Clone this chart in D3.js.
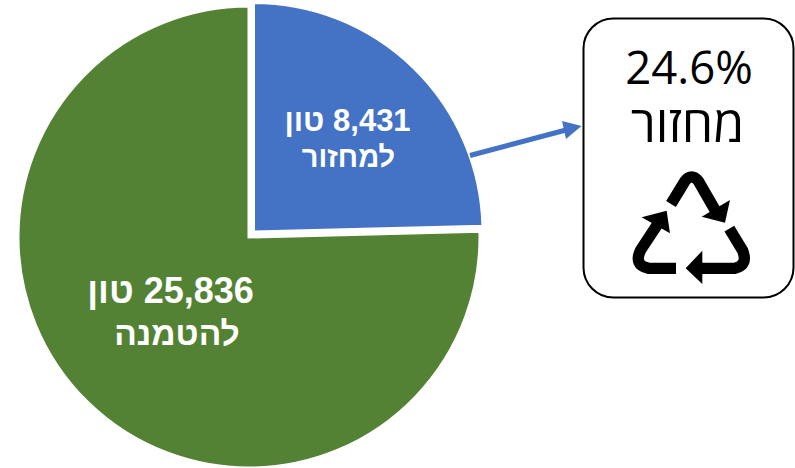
<!DOCTYPE html>
<html><head><meta charset="utf-8">
<script src="https://cdn.jsdelivr.net/npm/d3@7"></script>
<style>html,body{margin:0;background:#fff;overflow:hidden}svg{display:block}</style></head>
<body><svg id="c" width="795" height="468"></svg>
<script>
const values = [8431, 25836];
const lineOne = ["8,431 טון", "25,836 טון"];
const lineTwo = ["למחזור", "להטמנה"];
const colors = ["#4472c4", "#548235"];
const share = "24.6%";
const shareLabel = "מחזור";

const svg = d3.select("#c");
const slices = d3.pie().sort(null)(values);
const arc = d3.arc().innerRadius(0);
const geom = [
  {cx:253.5, cy:232, r:229.5},
  {cx:249, cy:237, r:231}
];
const labelPos = [
  {x1:347.5, x2:348.5, y1:131, y2:167, fs1:31, fs2:29},
  {x1:170.5, x2:177, y1:303, y2:345, fs1:36, fs2:33.5}
];
[1,0].forEach(i=>{
  const g = geom[i];
  svg.append("path")
    .attr("transform",`translate(${g.cx},${g.cy})`)
    .attr("d",arc.outerRadius(g.r)(slices[i]))
    .attr("fill",colors[i])
    .attr("stroke","#fff").attr("stroke-width",3);
});
labelPos.forEach((p,i)=>{
  [[lineOne,p.x1,p.y1,p.fs1],[lineTwo,p.x2,p.y2,p.fs2]].forEach(([t,x,y,fs])=>{
    svg.append("text").attr("x",x).attr("y",y)
      .attr("text-anchor","middle").attr("direction","rtl")
      .attr("font-family","'Liberation Sans',Arial,sans-serif")
      .attr("font-weight","bold").attr("font-size",fs)
      .attr("fill","#fff").text(t[i]);
  });
});
// connector
svg.append("line").attr("x1",470).attr("y1",155.5).attr("x2",566).attr("y2",130)
  .attr("stroke","#4472c4").attr("stroke-width",5);
svg.append("path").attr("d","M581.5,126 L562,121 L566,139 Z").attr("fill","#4472c4");
// card
svg.append("rect").attr("x",583.5).attr("y",18.5).attr("width",210).attr("height",279)
  .attr("rx",30).attr("fill","#fff").attr("stroke","#000").attr("stroke-width",2);
svg.append("text").attr("x",689).attr("y",84).attr("text-anchor","middle")
  .attr("font-family","'Open Sans',sans-serif").attr("font-size",45.5).attr("fill","#000").text(share);
svg.append("text").attr("x",687.5).attr("y",142).attr("text-anchor","middle").attr("direction","rtl")
  .attr("font-family","'Open Sans',sans-serif").attr("font-size",50).attr("fill","#000").text(shareLabel);
// recycling icon
const icon = svg.append("g").attr("transform","translate(570,0) scale(0.3333)");
const lines = [
  "M303,612 L345,543 Q365,518 385,543 L438,635",
  "M318,805 L235,805 Q190,795 212,750 L268,665",
  "M478,686 L518,752 Q535,795 495,805 L392,805"
];
const heads = [
  "M465,668 L480,600 L395,650 Z",
  "M290,632 L215,652 L300,700 Z",
  "M347,805 L397,752 L397,852 Z"
];
lines.forEach(d=>icon.append("path").attr("d",d).attr("fill","none").attr("stroke","#000").attr("stroke-width",34));
heads.forEach(d=>icon.append("path").attr("d",d).attr("fill","#000"));
</script></body></html>
